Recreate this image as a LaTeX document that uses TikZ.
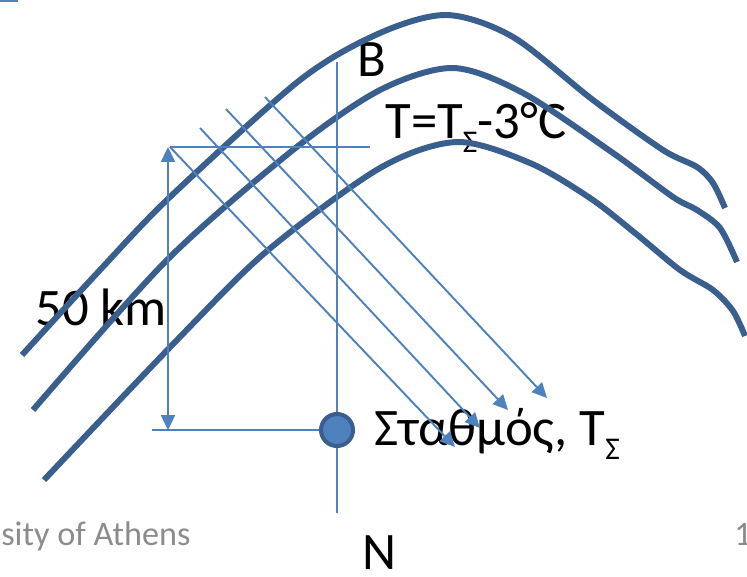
\documentclass[tikz,border=0pt]{standalone}
\usepackage{fontspec}
\setmainfont{Carlito}
\usetikzlibrary{arrows.meta}
\definecolor{isoblue}{HTML}{3A5F8F}
\definecolor{lineblue}{HTML}{4F81BD}
\definecolor{footgray}{HTML}{8C8C8C}
\newcommand{\subsig}{\raisebox{-8pt}{\fontsize{18}{18}\selectfont Σ}}
\begin{document}
\begin{tikzpicture}[x=0.02cm,y=-0.02cm,
  iso/.style={draw=isoblue,line width=3.4pt},
  thinln/.style={draw=lineblue,line width=1.1pt},
  tri/.style={-{Triangle[length=8.5pt,width=8pt]}},
  lbl/.style={anchor=base west,inner sep=0pt,font=\fontsize{30}{36}\selectfont},
  foot/.style={anchor=base west,inner sep=0pt,text=footgray,font=\fontsize{19.5}{23}\selectfont},
  stationdot/.style={circle,draw=isoblue,fill=lineblue,line width=2.3pt,minimum size=0.64cm,inner sep=0pt}]
\useasboundingbox (0,0) rectangle (747,576);

% texts (drawn first: lines pass over them)
\node[lbl] (lblB) at (357,76) {B};
\node[lbl] (lblT) at (385,138) {T=T\subsig-3°C};
\node[lbl] (lbl50) at (35,325) {50 km};
\node[lbl] (lblS) at (374,445) {Σταθμός, T\subsig};
\node[lbl] (lblN) at (362,569) {N};
\node[foot] (foot1) at (1,545) {sity of Athens};
\node[foot] (foot2) at (734,545) {1};

% top-left remnant
\draw[lineblue,line width=1.5pt] (0,1) -- (18,1);

% isotherms
\draw[iso] plot[smooth,tension=0.5] coordinates {(22,355) (100,270) (170,197) (300,80) (380,33) (447,15) (513,37) (593,100) (663,150) (697,167) (713,183) (725,208)};
\draw[iso] plot[smooth,tension=0.5] coordinates {(33,410) (167,260) (293,150) (380,90) (453,68) (523,93) (613,153) (673,197) (697,210) (720,228) (737,262)};
\draw[iso] plot[smooth,tension=0.5] coordinates {(44,480) (177,340) (267,251) (380,168) (457,142) (530,163) (590,198) (635,233) (680,270) (713,290) (733,311) (745,336)};

% construction lines
\coordinate (vtop) at (337,62);
\coordinate (vbot) at (337,513);
\coordinate (stc) at (337,430);
\coordinate (hl) at (170,147);
\coordinate (hr) at (370,147);
\coordinate (bl) at (152,430);
\coordinate (dtop) at (168,147);
\coordinate (dbot) at (168,430);
\draw[thinln] (vtop) -- (vbot);
\draw[thinln] (hl) -- (hr);
\draw[thinln] (bl) -- (stc);
\draw[thinln,{Triangle[length=8.5pt,width=8pt]}-{Triangle[length=8.5pt,width=8pt]}] (dtop) -- (dbot);

% parallel arrows
\coordinate (a1s) at (170,147); \coordinate (a1e) at (455,447);
\coordinate (a2s) at (200,128); \coordinate (a2e) at (480,428);
\coordinate (a3s) at (226,109); \coordinate (a3e) at (508,410);
\coordinate (a4s) at (265,97);  \coordinate (a4e) at (547,398);
\draw[thinln,tri] (a1s) -- (a1e);
\draw[thinln,tri] (a2s) -- (a2e);
\draw[thinln,tri] (a3s) -- (a3e);
\draw[thinln,tri] (a4s) -- (a4e);

% station
\node[stationdot] (station) at (stc) {};
\end{tikzpicture}
\end{document}
